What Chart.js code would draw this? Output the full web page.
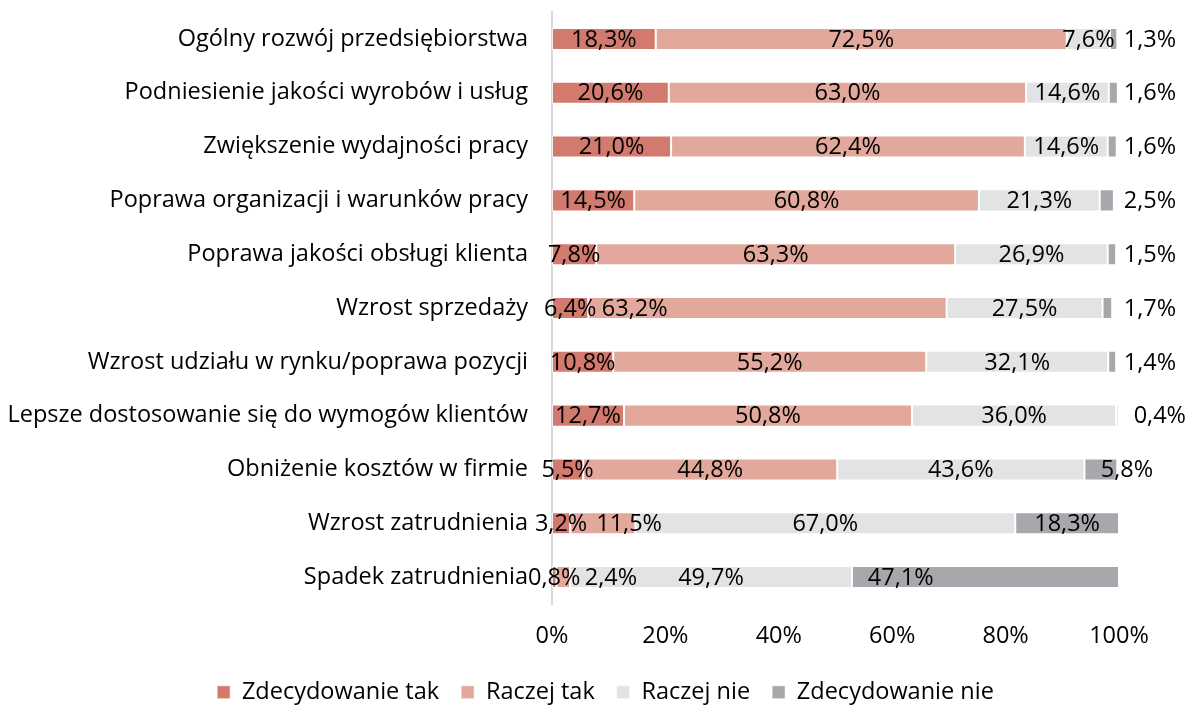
<!DOCTYPE html>
<html><head><meta charset="utf-8">
<script src="https://cdn.jsdelivr.net/npm/chart.js@4"></script>
<style>html,body{margin:0;padding:0;background:#fff}#wrap{width:1188px;height:705px}</style>
</head><body><div id="wrap"><canvas id="c" width="1188" height="705"></canvas></div>
<script>
const categories = [
  "Ogólny rozwój przedsiębiorstwa",
  "Podniesienie jakości wyrobów i usług",
  "Zwiększenie wydajności pracy",
  "Poprawa organizacji i warunków pracy",
  "Poprawa jakości obsługi klienta",
  "Wzrost sprzedaży",
  "Wzrost udziału w rynku/poprawa pozycji",
  "Lepsze dostosowanie się do wymogów klientów",
  "Obniżenie kosztów w firmie",
  "Wzrost zatrudnienia",
  "Spadek zatrudnienia"
];
const seriesNames = ["Zdecydowanie tak", "Raczej tak", "Raczej nie", "Zdecydowanie nie"];
const zdecydowanieTak = [18.3, 20.6, 21.0, 14.5, 7.8, 6.4, 10.8, 12.7, 5.5, 3.2, 0.8];
const raczejTak       = [72.5, 63.0, 62.4, 60.8, 63.3, 63.2, 55.2, 50.8, 44.8, 11.5, 2.4];
const raczejNie       = [7.6, 14.6, 14.6, 21.3, 26.9, 27.5, 32.1, 36.0, 43.6, 67.0, 49.7];
const zdecydowanieNie = [1.3, 1.6, 1.6, 2.5, 1.5, 1.7, 1.4, 0.4, 5.8, 18.3, 47.1];
const xTickValues = [0, 20, 40, 60, 80, 100];

const FONT = "'Open Sans', 'Liberation Sans', sans-serif";
const FS = 23.5;
const colors = ["#D37A6E", "#E2A89C", "#E2E3E5", "#A6A8AB"];

const fmt = v => v.toFixed(1).replace('.', ',') + '%';

const labelPlugin = {
  id: 'segLabels',
  afterLayout(chart, args, opts) {
    const lg = chart.legend;
    if (lg) { lg.left += opts.legendShift; lg.right += opts.legendShift; }
  },
  afterDatasetsDraw(chart, args, opts) {
    const ctx = chart.ctx, xs = chart.scales.x;
    const n = chart.data.datasets.length;
    ctx.save();
    ctx.font = `${opts.size}px ${opts.family}`;
    ctx.fillStyle = opts.color;
    ctx.textAlign = 'center';
    ctx.textBaseline = 'middle';
    chart.data.datasets.forEach((ds, di) => {
      const meta = chart.getDatasetMeta(di);
      if (meta.hidden) return;
      meta.data.forEach((bar, i) => {
        const v = ds.data[i];
        const s = Math.min(bar.x, bar.base), e = Math.max(bar.x, bar.base);
        let cx = (s + e) / 2;
        const key = di + ':' + i;
        if (opts.anchorAt[key] !== undefined) cx = xs.getPixelForValue(opts.anchorAt[key]);
        else if (di === n - 1 && v < opts.outsideBelow) cx = xs.getPixelForValue(xs.max) + opts.outsideOffset;
        ctx.fillText(fmt(v), cx, bar.y + 1);
      });
    });
    ctx.restore();
  }
};

const seriesData = [zdecydowanieTak, raczejTak, raczejNie, zdecydowanieNie];

new Chart(document.getElementById('c'), {
  type: 'bar',
  data: {
    labels: categories,
    datasets: seriesNames.map((name, k) => ({
      label: name,
      data: seriesData[k],
      backgroundColor: colors[k],
      borderColor: 'rgba(255,255,255,0.6)',
      borderWidth: 1,
      borderSkipped: false,
      barPercentage: 0.41,
      categoryPercentage: 1.0
    }))
  },
  options: {
    indexAxis: 'y',
    responsive: false,
    animation: false,
    layout: { autoPadding: false, padding: { top: 12, left: 0, right: 69, bottom: -9 } },
    scales: {
      x: {
        stacked: true,
        min: 0, max: 100,
        afterBuildTicks: s => { s.ticks = xTickValues.map(v => ({ value: v })); },
        afterFit: s => { s.height = 54.5; },
        grid: { display: false, drawTicks: false },
        border: { display: false },
        ticks: { color: '#000', font: { family: FONT, size: FS }, padding: 18, callback: v => v + '%' }
      },
      y: {
        stacked: true,
        afterFit: s => { s.width = 552; s.paddingTop = 0; s.paddingBottom = 0; },
        grid: { display: false, drawTicks: false },
        border: { display: true, color: '#D9D9D9', width: 2 },
        ticks: { color: '#000', font: { family: FONT, size: FS }, padding: 24 }
      }
    },
    plugins: {
      legend: {
        position: 'bottom',
        labels: { boxWidth: 13, boxHeight: 13, padding: 22, color: '#000', font: { family: FONT, size: FS } }
      },
      tooltip: { enabled: false },
      segLabels: {
        family: FONT, size: FS, color: '#000',
        outsideBelow: 10, outsideOffset: 31, legendShift: 46,
        anchorAt: { '1:5': 14.6, '1:9': 13.6, '1:10': 10.4, '3:10': 61.5, '3:8': 101.4, '3:7': 107.2 }
      }
    }
  },
  plugins: [labelPlugin]
});
</script>
</body></html>
